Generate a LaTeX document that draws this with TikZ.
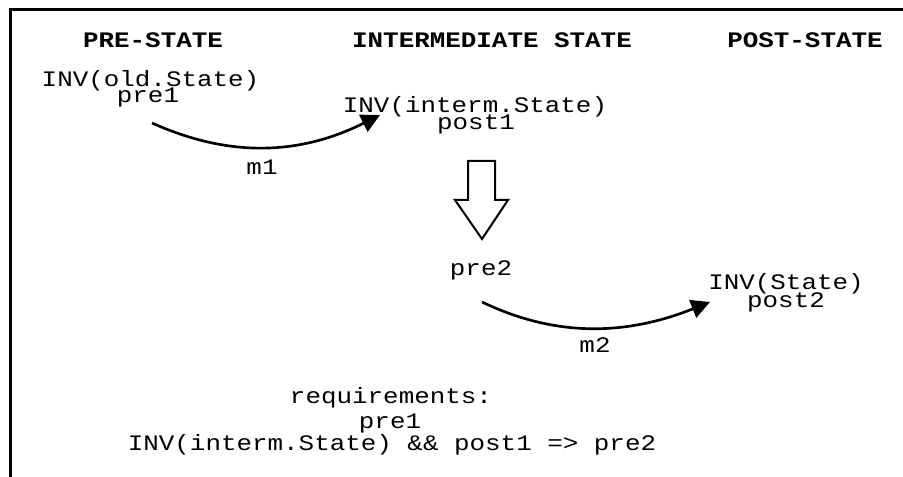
\documentclass[tikz,border=0pt]{standalone}
\usepackage{fontspec}
% Courier-like proportions: a slightly smaller Liberation Mono, widened
\setmonofont{Liberation Mono}[FakeStretch=1.17]
\usetikzlibrary{arrows.meta}
\begin{document}
\begin{tikzpicture}[x=0.75pt,y=-0.75pt,
  txt/.style={font=\ttfamily\fontsize{16.6}{18}\selectfont, inner sep=0pt, anchor=base},
  head/.style={txt, font=\ttfamily\bfseries\fontsize{16.6}{18}\selectfont},
  flow/.style={line width=2pt, -{Triangle[length=14pt,width=14pt]}},
  frameline/.style={line width=1.9pt},
  bigarrow/.style={line width=1.5pt, line join=miter}]
\useasboundingbox (0,0) rectangle (903,477);

% frame (top and left edges)
\draw[frameline] (10.3,477) -- (10.3,9.5) -- (903,9.5);

% column headings
\node[head] (hpre)  at (153,48) {PRE-STATE};
\node[head] (hint)  at (492,48) {INTERMEDIATE STATE};
\node[head] (hpost) at (805,48) {POST-STATE};

% states
\node[txt] (invold) at (150.5,87) {INV(old.State)};
\node[txt] (pre1)   at (148,103)  {pre1};
\node[txt] (invint) at (475,113)  {INV(interm.State)};
\node[txt] (post1)  at (476,130)  {post1};
\node[txt] (pre2)   at (481,276)  {pre2};
\node[txt] (invst)  at (786,290)  {INV(State)};
\node[txt] (post2)  at (786,308)  {post2};

% method labels
\node[txt] (m1) at (262,175) {m1};
\node[txt] (m2) at (595,352) {m2};

% requirements
\node[txt] (req)  at (391,403) {requirements:};
\node[txt] (rpre) at (390,428) {pre1};
\node[txt] (rimp) at (392,450) {INV(interm.State) \&\& post1 => pre2};

% method transitions
\coordinate (a1) at (152,123);
\coordinate (b1) at (380,115);
\draw[flow] (a1) .. controls (230,158) and (300,155) .. (b1);
\coordinate (a2) at (482,302);
\coordinate (b2) at (710,302);
\draw[flow] (a2) .. controls (555,337) and (625,336) .. (b2);

% hollow implication arrow
\draw[bigarrow] (468,161) -- (495,161) -- (495,200) -- (508,200)
  -- (482,239) -- (455,200) -- (468,200) -- cycle;
\end{tikzpicture}
\end{document}
